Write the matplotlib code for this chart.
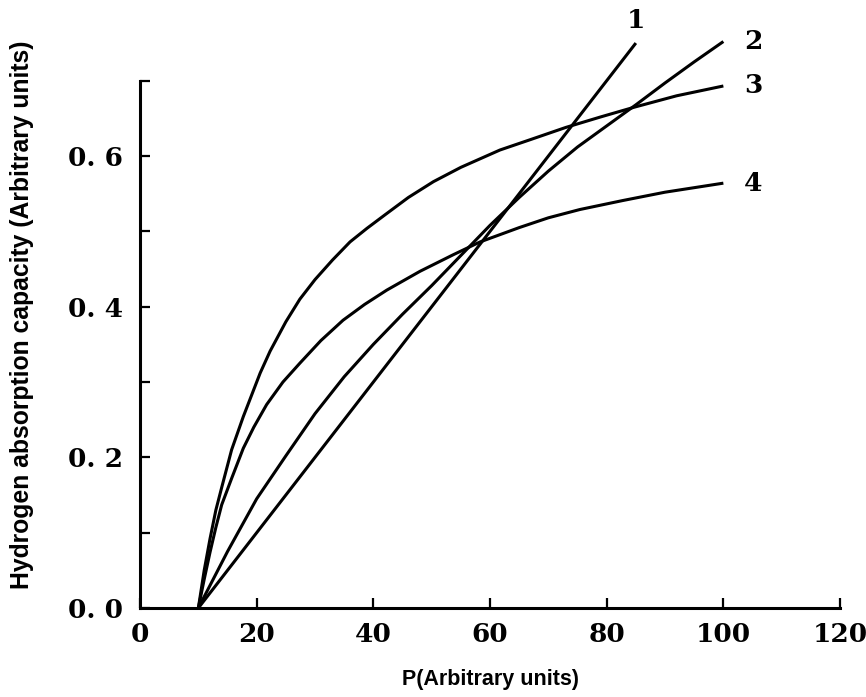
import numpy as np
from matplotlib import pyplot as plt

# values
x1 = [10, 85]
y1 = [0.0, 0.75]

x2 = [10, 15, 20, 25, 30, 35, 40, 45, 50, 55, 60, 65, 70, 75, 80, 85, 90, 95, 100]
y2 = [0.0, 0.075, 0.145, 0.202, 0.258, 0.307, 0.35, 0.39, 0.428, 0.468, 0.508, 0.545,
      0.58, 0.612, 0.64, 0.668, 0.697, 0.725, 0.752]

x3 = [10, 11, 12, 13, 14, 15.7, 17.7, 20.6, 22.3, 25, 27.4, 30, 33, 36, 38.9, 42, 46,
      50.3, 55, 61.7, 67, 73, 79, 84.8, 92, 100]
y3 = [0.0, 0.05, 0.092, 0.13, 0.16, 0.21, 0.254, 0.312, 0.341, 0.38, 0.41, 0.436, 0.462,
      0.486, 0.504, 0.522, 0.545, 0.566, 0.585, 0.608, 0.622, 0.638, 0.652, 0.665, 0.68, 0.693]

x4 = [10, 11, 12, 13, 14, 15.7, 17.7, 19.5, 21.7, 24.5, 27.4, 31, 34.8, 38.5, 42.3, 48,
      53.7, 58.3, 65, 70, 75.4, 82.8, 90, 100]
y4 = [0.0, 0.038, 0.074, 0.107, 0.137, 0.172, 0.212, 0.24, 0.27, 0.3, 0.325, 0.355, 0.382,
      0.403, 0.422, 0.447, 0.469, 0.486, 0.505, 0.518, 0.529, 0.541, 0.552, 0.564]

curve_names = ['1', '2', '3', '4']

xticks      = [0, 20, 40, 60, 80, 100, 120]
xticklabels = ['0', '20', '40', '60', '80', '100', '120']
yticks      = [0.0, 0.1, 0.2, 0.3, 0.4, 0.5, 0.6, 0.7]
yticklabels = ['0. 0', '', '0. 2', '', '0. 4', '', '0. 6', '']

fig = plt.figure(figsize=(8.66, 6.97), dpi=100)
ax  = fig.add_axes([0.1617, 0.1277, 0.8083, 0.7565])

curves = [(x1, y1), (x2, y2), (x3, y3), (x4, y4)]
for (xs, ys), name in zip(curves, curve_names):
	ax.plot(xs, ys, color='k', linewidth=2.2, clip_on=False, solid_capstyle='butt',
	        solid_joinstyle='round')
	# number label just past the end of each curve
	if name == '1':
		ax.text(xs[-1], ys[-1] + 0.014, name, ha='center', va='bottom',
		        family='DejaVu Serif', fontweight='bold', fontsize=19)
	else:
		ax.text(xs[-1] + 3.5, ys[-1], name, ha='left', va='center',
		        family='DejaVu Serif', fontweight='bold', fontsize=19)

ax.set_xlim(0, 120)
ax.set_ylim(0, 0.7)
ax.set_xticks(xticks)
ax.set_xticklabels(xticklabels, family='DejaVu Serif', fontweight='bold', fontsize=19)
ax.set_yticks(yticks)
ax.set_yticklabels(yticklabels, family='DejaVu Serif', fontweight='bold', fontsize=19)
ax.tick_params(direction='in', length=7, width=1.6, pad=10)
ax.tick_params(axis='y', pad=12)

for side in ['top', 'right']:
	ax.spines[side].set_visible(False)
for side in ['left', 'bottom']:
	ax.spines[side].set_linewidth(2.2)

ax.set_xlabel('P(Arbitrary units)', family='Liberation Sans', fontweight='bold',
              fontsize=15.5, labelpad=16)
ax.set_ylabel('Hydrogen absorption capacity (Arbitrary units)', family='Liberation Sans',
              fontweight='bold', fontsize=17.8)
ax.yaxis.label.set_va('center')
ax.yaxis.set_label_coords(-0.1686, 0.556)

plt.savefig('out.png', dpi=100)
plt.close()
